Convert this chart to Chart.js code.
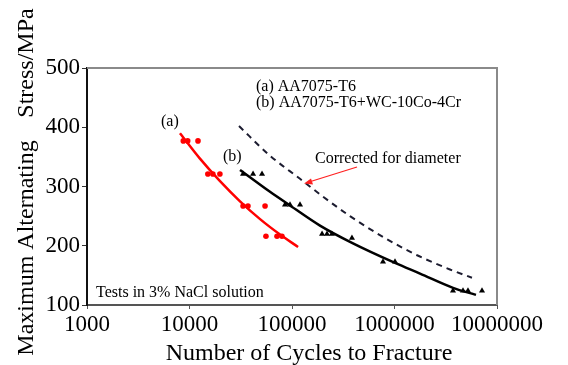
<!DOCTYPE html>
<html>
<head>
<meta charset="utf-8">
<script src="https://cdn.jsdelivr.net/npm/chart.js@4.4.1/dist/chart.umd.min.js"></script>
<style>
  html, body { margin: 0; padding: 0; background: #fff; }
  #wrap { width: 568px; height: 365px; position: relative; }
</style>
</head>
<body>
<div id="wrap"><canvas id="sn"></canvas></div>
<script>
'use strict';

// ── Data ──────────────────────────────────────────────────────
const xTicks = [1000, 10000, 100000, 1000000, 10000000];
const yTicks = [100, 200, 300, 400, 500];

// (a) AA7075-T6 – test points
const aCycles = [8700, 9600, 12100, 15100, 16900, 19800, 33300, 37200, 54600, 55700, 71400, 79800];
const aStress = [377, 377, 377, 321, 321, 321, 267, 267, 267, 216, 216, 216];

// (a) fitted curve
const aFitCycles = [8070, 12650, 19850, 31100, 48800, 76400, 114600];
const aFitStress = [390, 347, 309, 275, 245, 219, 198];

// (b) AA7075-T6+WC-10Co-4Cr – test points
const bCycles = [33300, 41700, 51000, 85500, 95600, 119700, 196500, 219500, 245000, 384500, 772000, 1011000, 3720000, 4660000, 5210000, 7140000];
const bStress = [321, 321, 321, 269, 269, 269, 220, 220, 220, 213, 173, 173, 124, 124, 124, 124];

// (b) fitted curve
const bFitCycles = [31100, 61000, 95600, 187500, 393500, 1011000, 1774000, 3724000, 6237000];
const bFitStress = [328, 291, 268, 234, 204, 171, 153, 129, 117];

// corrected for diameter (dashed)
const cFitCycles = [30400, 61000, 119700, 200500, 368000, 772000, 1660000, 3475000, 5700000];
const cFitStress = [402, 352, 313, 283, 250, 215, 184, 160, 146];

const zip = (xs, ys) => xs.map((x, i) => ({ x, y: ys[i] }));

const SERIF = "'Liberation Serif', 'DejaVu Serif', serif";

// ── Frame, annotations, axis titles ───────────────────────────
const decor = {
  id: 'decor',
  afterDraw(chart) {
    const { ctx, chartArea: a } = chart;
    ctx.save();

    // top + right frame (grey)
    ctx.strokeStyle = '#8a8a8a';
    ctx.lineWidth = 2;
    ctx.beginPath();
    ctx.moveTo(a.left, a.top);
    ctx.lineTo(a.right, a.top);
    ctx.lineTo(a.right, a.bottom);
    ctx.stroke();

    ctx.fillStyle = '#000';
    ctx.font = '16px ' + SERIF;
    ctx.textAlign = 'left';
    ctx.textBaseline = 'alphabetic';
    ctx.fillText('(a) AA7075-T6', 256, 91);
    ctx.fillText('(b) AA7075-T6+WC-10Co-4Cr', 256, 107);
    ctx.fillText('(a)', 161, 126);
    ctx.fillText('(b)', 223, 161);
    ctx.fillText('Corrected for diameter', 315, 163);
    ctx.fillText('Tests in 3% NaCl solution', 96, 297);

    // red arrow
    ctx.strokeStyle = '#ff2020';
    ctx.fillStyle = '#ff2020';
    ctx.lineWidth = 1.3;
    ctx.beginPath();
    ctx.moveTo(357, 167);
    ctx.lineTo(309, 182);
    ctx.stroke();
    ctx.beginPath();
    ctx.moveTo(304, 183.5);
    ctx.lineTo(311, 178.5);
    ctx.lineTo(313, 184.5);
    ctx.closePath();
    ctx.fill();

    // axis titles
    ctx.fillStyle = '#000';
    ctx.font = '24px ' + SERIF;
    ctx.textAlign = 'center';
    ctx.fillText('Number of Cycles to Fracture', 309, 360);

    ctx.translate(27, 0);
    ctx.rotate(-Math.PI / 2);
    ctx.textBaseline = 'middle';
    ctx.fillText('Maximum Alternating', -248, 0);
    ctx.fillText('Stress/MPa', -63, 0);
    ctx.restore();
  },
};

new Chart(document.getElementById('sn'), {
  type: 'scatter',
  data: {
    datasets: [
      {
        label: 'a-fit',
        type: 'line',
        data: zip(aFitCycles, aFitStress),
        borderColor: '#ff0000',
        borderWidth: 2.5,
        pointRadius: 0,
        cubicInterpolationMode: 'monotone',
        fill: false,
      },
      {
        label: 'b-fit',
        type: 'line',
        data: zip(bFitCycles, bFitStress),
        borderColor: '#000',
        borderWidth: 2.5,
        pointRadius: 0,
        cubicInterpolationMode: 'monotone',
        fill: false,
      },
      {
        label: 'corrected',
        type: 'line',
        data: zip(cFitCycles, cFitStress),
        borderColor: '#1c1c30',
        borderWidth: 2,
        borderDash: [6, 5],
        pointRadius: 0,
        cubicInterpolationMode: 'monotone',
        fill: false,
      },
      {
        label: 'a',
        data: zip(aCycles, aStress),
        pointStyle: 'circle',
        pointRadius: 2.8,
        backgroundColor: '#ff0000',
        borderColor: '#ff0000',
        borderWidth: 0,
      },
      {
        label: 'b',
        data: zip(bCycles, bStress),
        pointStyle: 'triangle',
        pointRadius: 3.5,
        backgroundColor: '#000',
        borderColor: '#000',
        borderWidth: 0,
      },
    ],
  },
  options: {
    responsive: true,
    maintainAspectRatio: false,
    animation: false,
    layout: { padding: { left: 0, right: 71, top: 68, bottom: 0 } },
    plugins: {
      legend: { display: false },
      tooltip: { enabled: false },
    },
    scales: {
      x: {
        type: 'logarithmic',
        min: 1000,
        max: 10000000,
        afterBuildTicks(scale) { scale.ticks = xTicks.map(v => ({ value: v, major: true })); },
        afterFit(scale) { scale.height = 60; },
        grid: { drawOnChartArea: false, tickLength: 4, color: '#555' },
        border: { color: '#555', width: 2 },
        ticks: {
          color: '#000',
          font: { family: SERIF, size: 23 },
          padding: 2,
          maxRotation: 0,
          autoSkip: false,
          callback: v => String(v),
        },
      },
      y: {
        type: 'linear',
        min: 100,
        max: 500,
        afterFit(scale) { scale.width = 87; },
        grid: { drawOnChartArea: false, tickLength: 5, color: '#333' },
        border: { color: '#111', width: 2 },
        ticks: {
          stepSize: 50,
          color: '#000',
          font: { family: SERIF, size: 23 },
          padding: 2,
          callback: v => (yTicks.includes(v) ? String(v) : ''),
        },
      },
    },
  },
  plugins: [decor],
});
</script>
</body>
</html>
